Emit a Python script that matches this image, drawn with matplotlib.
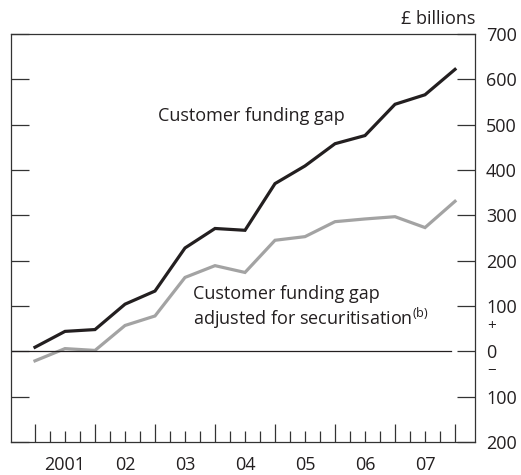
import numpy as np
import matplotlib.pyplot as plt
from matplotlib.ticker import FixedLocator, FixedFormatter
import matplotlib.transforms as mtransforms

plt.rcParams['font.family'] = ['Open Sans', 'DejaVu Sans']
plt.rcParams['mathtext.fontset'] = 'custom'
plt.rcParams['mathtext.rm'] = 'Open Sans'

# half-yearly observations, end-2000 to end-2007 (decimal year at period end)
dates = [2001.0 + 0.5 * i for i in range(15)]
funding_gap = [9, 44, 48, 104, 133, 228, 271, 267, 370, 409, 458, 476, 545, 566, 622]
funding_gap_adj = [-21, 6, 2, 57, 78, 163, 189, 174, 245, 253, 286, 292, 297, 273, 331]

year_labels = ['2001', '02', '03', '04', '05', '06', '07']
ytick_vals = [-200, -100, 0, 100, 200, 300, 400, 500, 600, 700]
ytick_labels = ['200', '100', '0', '100', '200', '300', '400', '500', '600', '700']

fig = plt.figure(figsize=(5.21, 4.75), dpi=100)
ax = fig.add_axes([0.0211, 0.0695, 0.8906, 0.8589])

ax.plot(dates, funding_gap, color='#231f20', lw=2.3, solid_joinstyle='miter')
ax.plot(dates, funding_gap_adj, color='#a3a3a3', lw=2.3, solid_joinstyle='miter')
ax.axhline(0, xmin=0, xmax=0.948, color='#231f20', lw=0.9)

ax.set_xlim(2000.6, 2008.333)
ax.set_ylim(-200, 700)

# x axis: tall ticks at year boundaries, short quarterly ticks, labels mid-year
ax.xaxis.set_major_locator(FixedLocator(list(range(2001, 2009))))
ax.xaxis.set_major_formatter(FixedFormatter([''] * 8))
quarters = [y + q for y in range(2001, 2008) for q in (0.25, 0.5, 0.75)]
qlabels = []
for y in range(2001, 2008):
    qlabels += ['', year_labels[y - 2001], '']
ax.xaxis.set_minor_locator(FixedLocator(quarters))
ax.xaxis.set_minor_formatter(FixedFormatter(qlabels))
ax.tick_params(axis='x', which='major', direction='in', length=13, width=0.9,
               color='#333333', bottom=True, top=False)
ax.tick_params(axis='x', which='minor', direction='in', length=8, width=0.9,
               color='#333333', pad=10, labelsize=13, labelcolor='#231f20')

ax.set_yticks(ytick_vals)
ax.set_yticklabels(ytick_labels)
ax.tick_params(axis='y', direction='in', length=13, width=0.9, color='#333333',
               left=True, right=True, labelleft=False, labelright=True,
               pad=8, labelsize=13, labelcolor='#231f20')

for s in ax.spines.values():
    s.set_color('#333333')
    s.set_linewidth(0.9)

trans = mtransforms.blended_transform_factory(ax.transAxes, ax.transData)
ax.text(1.027, 55, '+', transform=trans, fontsize=11, ha='left', va='center', color='#231f20')
ax.text(1.027, -45, '\u2212', transform=trans, fontsize=11, ha='left', va='center', color='#231f20')
ax.text(1.0, 1.015, '\u00a3 billions', transform=ax.transAxes, fontsize=13,
        ha='right', va='bottom', color='#231f20')

ax.text(2003.05, 520, 'Customer funding gap', fontsize=13, ha='left', va='center',
        color='#231f20')
ax.text(2003.63, 96, 'Customer funding gap\nadjusted for securitisation$^{\\mathrm{(b)}}$',
        fontsize=13, ha='left', va='center', color='#231f20', linespacing=1.15)

fig.savefig('out.png', dpi=100)
